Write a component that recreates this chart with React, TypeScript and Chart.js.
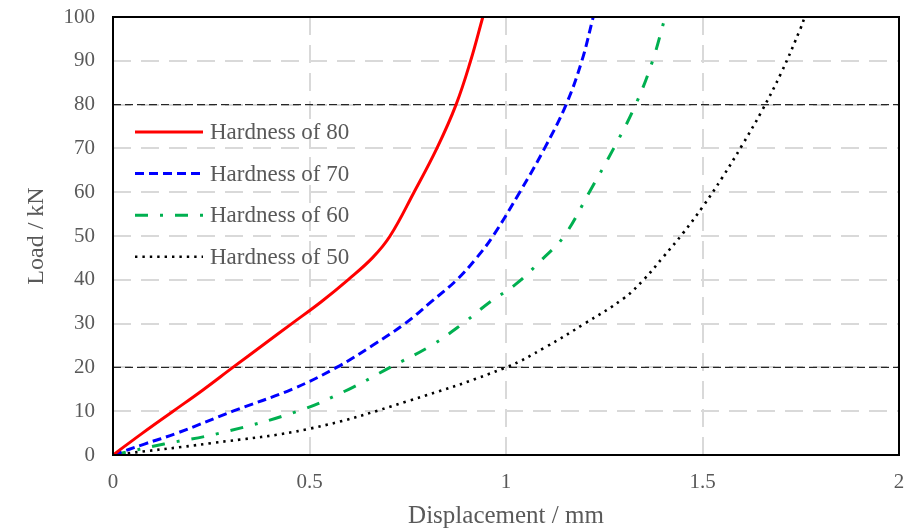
import React, { useEffect, useRef } from 'react';
import { Chart, registerables } from 'chart.js';

Chart.register(...registerables);

// ---- Data ----
const seriesNames = ['Hardness of 80', 'Hardness of 70', 'Hardness of 60', 'Hardness of 50'];

const h80X = [0, 0.075, 0.153, 0.228, 0.305, 0.38, 0.455, 0.53, 0.598, 0.66, 0.705, 0.766, 0.824, 0.873, 0.91, 0.941];
const h80Y = [0, 5, 10, 14.8, 20, 25, 30, 35, 40, 45, 50, 60, 70, 80, 90, 100];

const h70X = [0, 0.08, 0.163, 0.305, 0.455, 0.569, 0.66, 0.743, 0.81, 0.875, 0.925, 0.967, 1.035, 1.098, 1.153, 1.193, 1.222];
const h70Y = [0, 2.5, 5, 10, 15, 20, 25, 30, 35, 40, 45, 50, 60, 70, 80, 90, 100];

const h60X = [0, 0.13, 0.272, 0.47, 0.6, 0.705, 0.81, 0.89, 0.96, 1.025, 1.09, 1.148, 1.212, 1.274, 1.33, 1.373, 1.405];
const h60Y = [0, 2.5, 5, 10, 15, 20, 25, 30, 35, 39, 44.5, 50, 60, 70, 80, 90, 100];

const h50X = [0, 0.25, 0.5, 0.75, 1, 1.1, 1.2, 1.3, 1.35, 1.4, 1.45, 1.5, 1.55, 1.6, 1.65, 1.7, 1.75, 1.76];
const h50Y = [0, 2.7, 6, 12.3, 20, 24.6, 30, 35.8, 40, 45.2, 50.6, 56.6, 63.3, 70.6, 78.4, 87.2, 97.5, 100];

const refLevels = [20, 80];

const xMin = 0, xMax = 2, xStep = 0.5;
const yMin = 0, yMax = 100, yStep = 10;
const xTickLabels = ['0', '0.5', '1', '1.5', '2'];

const xTitle = 'Displacement / mm';
const yTitle = 'Load / kN';

// ---- Styles ----
const FONT = "'Liberation Serif', 'Times New Roman', serif";
const TEXT = '#595959';

const toPts = (xs: number[], ys: number[]) => xs.map((x, i) => ({ x, y: ys[i] }));

const legendPlugin = {
  id: 'insideLegend',
  afterDraw(chart: any) {
    const ctx = chart.ctx;
    const items = chart.data.datasets.filter((d: any) => seriesNames.includes(d.label));
    ctx.save();
    items.forEach((d: any, i: number) => {
      const y = 132 + i * 41.6;
      ctx.beginPath();
      ctx.strokeStyle = d.borderColor;
      ctx.lineWidth = d.borderWidth;
      ctx.lineCap = 'butt';
      ctx.setLineDash(d.borderDash || []);
      ctx.moveTo(135, y);
      ctx.lineTo(203, y);
      ctx.stroke();
      ctx.setLineDash([]);
      ctx.fillStyle = TEXT;
      ctx.font = `23px ${FONT}`;
      ctx.textAlign = 'left';
      ctx.textBaseline = 'middle';
      ctx.fillText(d.label, 210, y + 1);
    });
    ctx.restore();
  },
};

const framePlugin = {
  id: 'frame',
  afterDatasetsDraw(chart: any) {
    const { left, top, right, bottom } = chart.chartArea;
    const ctx = chart.ctx;
    ctx.save();
    ctx.strokeStyle = '#000';
    ctx.lineWidth = 2;
    ctx.setLineDash([]);
    ctx.strokeRect(left, top, right - left, bottom - top);
    ctx.restore();
  },
};

export default function App() {
  const ref = useRef<HTMLCanvasElement | null>(null);

  useEffect(() => {
    if (!ref.current) return;
    const common = { pointRadius: 0, fill: false, tension: 0.4 };
    const datasets: any[] = [
      { label: seriesNames[0], data: toPts(h80X, h80Y), borderColor: '#ff0000', borderWidth: 3, borderDash: [], ...common, order: 1 },
      { label: seriesNames[1], data: toPts(h70X, h70Y), borderColor: '#0000ff', borderWidth: 3, borderDash: [9, 5], ...common, order: 2 },
      { label: seriesNames[2], data: toPts(h60X, h60Y), borderColor: '#00b050', borderWidth: 3, borderDash: [13, 12, 3, 12], ...common, order: 3 },
      { label: seriesNames[3], data: toPts(h50X, h50Y), borderColor: '#000000', borderWidth: 2.6, borderDash: [2.4, 5], ...common, order: 4 },
      ...refLevels.map((lv) => ({
        label: 'ref' + lv,
        data: [{ x: xMin, y: lv }, { x: xMax, y: lv }],
        borderColor: '#262626',
        borderWidth: 1.2,
        borderDash: [8, 4],
        pointRadius: 0,
        fill: false,
        order: 10,
      })),
    ];

    const chart = new Chart(ref.current, {
      type: 'line',
      data: { datasets },
      options: {
        animation: false,
        responsive: false,
        layout: { padding: { top: 17, right: 19, left: 0, bottom: 0 } },
        plugins: { legend: { display: false }, tooltip: { enabled: false } },
        scales: {
          x: {
            type: 'linear',
            min: xMin,
            max: xMax,
            ticks: {
              stepSize: xStep,
              color: TEXT,
              font: { family: FONT, size: 21 },
              padding: 15,
              maxRotation: 0,
              callback: (_v: any, i: number) => xTickLabels[i],
            },
            grid: { color: '#d9d9d9', lineWidth: 2, drawTicks: false },
            border: { display: false, dash: [18, 10] },
            title: { display: true, text: xTitle, color: TEXT, font: { family: FONT, size: 25, lineHeight: 1 }, padding: { top: 0, bottom: 0 } },
            afterFit: (s: any) => { s.height = 74; s.paddingLeft = 0; s.paddingRight = 0; },
          },
          y: {
            type: 'linear',
            min: yMin,
            max: yMax,
            ticks: { stepSize: yStep, color: TEXT, font: { family: FONT, size: 21 }, padding: 18 },
            grid: { color: '#d9d9d9', lineWidth: 2, drawTicks: false },
            border: { display: false, dash: [18, 10] },
            title: { display: true, text: yTitle, color: TEXT, font: { family: FONT, size: 24, lineHeight: 1 }, padding: { top: 25, bottom: 0 } },
            afterFit: (s: any) => { s.width = 113; s.paddingTop = 0; s.paddingBottom = 0; },
          },
        },
      },
      plugins: [framePlugin, legendPlugin],
    });
    return () => chart.destroy();
  }, []);

  return (
    <div style={{ position: 'absolute', left: 0, top: 0, width: 918, height: 529, background: '#fff' }}>
      <canvas ref={ref} width={918} height={529} style={{ display: 'block' }} />
    </div>
  );
}
